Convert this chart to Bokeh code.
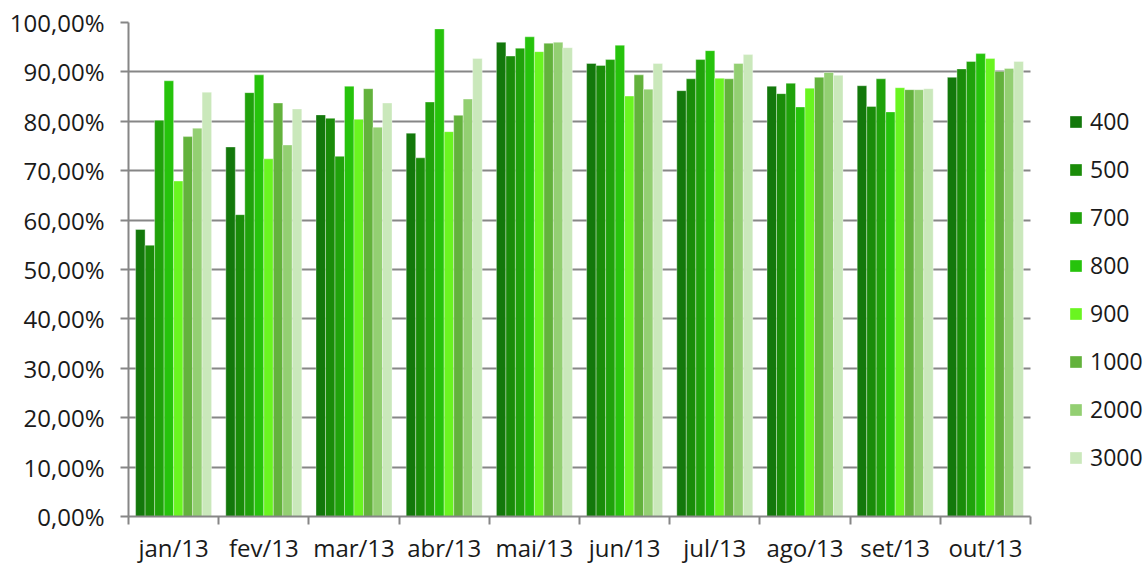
from bokeh.plotting import figure
from bokeh.models import (ColumnDataSource, Range1d, LinearAxis,
                          FixedTicker, Legend, LegendItem)
from bokeh.embed import file_html
from bokeh.resources import INLINE

months = ["jan/13", "fev/13", "mar/13", "abr/13", "mai/13",
          "jun/13", "jul/13", "ago/13", "set/13", "out/13"]
series = ["400", "500", "700", "800", "900", "1000", "2000", "3000"]
colors = ["#13780b", "#1a8c09", "#20a20b", "#26c30c", "#6af520",
          "#63b23c", "#93cf72", "#cae8bb"]

v400 = [58.1, 74.8, 81.3, 77.6, 96.0, 91.7, 86.2, 87.1, 87.2, 88.9]
v500 = [54.9, 61.1, 80.6, 72.6, 93.2, 91.3, 88.6, 85.6, 83.0, 90.6]
v700 = [80.2, 85.8, 72.9, 83.9, 94.8, 92.5, 92.5, 87.7, 88.6, 92.1]
v800 = [88.2, 89.4, 87.1, 98.7, 97.1, 95.4, 94.3, 82.9, 81.9, 93.7]
v900 = [67.9, 72.4, 80.4, 77.9, 94.1, 85.1, 88.7, 86.7, 86.8, 92.7]
v1000 = [76.9, 83.7, 86.6, 81.2, 95.8, 89.4, 88.6, 88.9, 86.4, 90.1]
v2000 = [78.6, 75.2, 78.8, 84.5, 96.0, 86.5, 91.7, 89.9, 86.4, 90.7]
v3000 = [85.9, 82.5, 83.7, 92.7, 94.9, 91.7, 93.5, 89.3, 86.6, 92.1]

y_ticks = [0, 10, 20, 30, 40, 50, 60, 70, 80, 90, 100]
y_tick_labels = ["0,00%", "10,00%", "20,00%", "30,00%", "40,00%", "50,00%",
                 "60,00%", "70,00%", "80,00%", "90,00%", "100,00%"]

values = [v400, v500, v700, v800, v900, v1000, v2000, v3000]
n = len(months)
centers = [i + 0.5 for i in range(n)]
edges = list(range(n + 1))

FONT = "Open Sans"
GREY = "#868686"
TXT = "#1a1a1a"

W, H = 1147, 566
LEFT, RIGHT, TOP, BOTTOM = 128, 0, 22, 48
unit_px = 90.2                      # width of one month slot on screen
x_end = (W - LEFT - RIGHT) / unit_px  # extra room on the right for the legend

p = figure(width=W, height=H, output_backend="svg", toolbar_location=None,
           x_range=Range1d(0, x_end), y_range=Range1d(0, 100),
           x_axis_location=None,
           min_border_left=LEFT, min_border_right=RIGHT, min_border_top=TOP,
           min_border_bottom=BOTTOM)
p.outline_line_color = None
p.background_fill_color = "white"

# y axis
yax = p.yaxis[0]
yax.ticker = FixedTicker(ticks=y_ticks)
yax.major_label_overrides = {t: l for t, l in zip(y_ticks, y_tick_labels)}
yax.axis_line_color = GREY
yax.axis_line_width = 2
yax.major_tick_line_color = GREY
yax.major_tick_line_width = 2
yax.major_tick_out = 8
yax.major_tick_in = 0
yax.minor_tick_line_color = None
yax.major_label_text_font = FONT
yax.major_label_text_font_size = "24px"
yax.major_label_text_color = TXT
yax.major_label_standoff = 16

p.xgrid.visible = False
p.ygrid.ticker = FixedTicker(ticks=y_ticks)
p.ygrid.grid_line_color = GREY
p.ygrid.grid_line_width = 2
p.ygrid.cross_bounds = (0, n)

# x axis: labels at month centres, tick marks at month edges
xax = LinearAxis(ticker=FixedTicker(ticks=centers, minor_ticks=edges),
                 bounds=(0, n),
                 major_label_overrides={c: m for c, m in zip(centers, months)},
                 axis_line_color=GREY, axis_line_width=2,
                 major_tick_line_color=None, major_tick_out=0, major_tick_in=0,
                 minor_tick_line_color=GREY, minor_tick_line_width=2,
                 minor_tick_out=8, minor_tick_in=0,
                 major_label_text_font=FONT,
                 major_label_text_font_size="24px",
                 major_label_text_color=TXT,
                 major_label_standoff=6)
p.add_layout(xax, "below")

bw = 0.1053
items = []
for k, (s, c, v) in enumerate(zip(series, colors, values)):
    src = ColumnDataSource(dict(x=[ctr + (k - 3.5) * bw for ctr in centers], top=v))
    r = p.vbar(x="x", top="top", width=bw, bottom=0, source=src, fill_color=c,
               line_color="white", line_alpha=0.35, line_width=1)
    items.append(LegendItem(label=s, renderers=[r]))

legend = Legend(items=items, location=(940, 43), orientation="vertical",
                glyph_width=15, glyph_height=15, label_standoff=7,
                label_height=20, spacing=16, padding=0, margin=0,
                border_line_color=None, background_fill_alpha=0,
                label_text_font=FONT, label_text_font_size="23px",
                label_text_color=TXT)
p.add_layout(legend)

open("out.html", "w").write(file_html(p, INLINE))
